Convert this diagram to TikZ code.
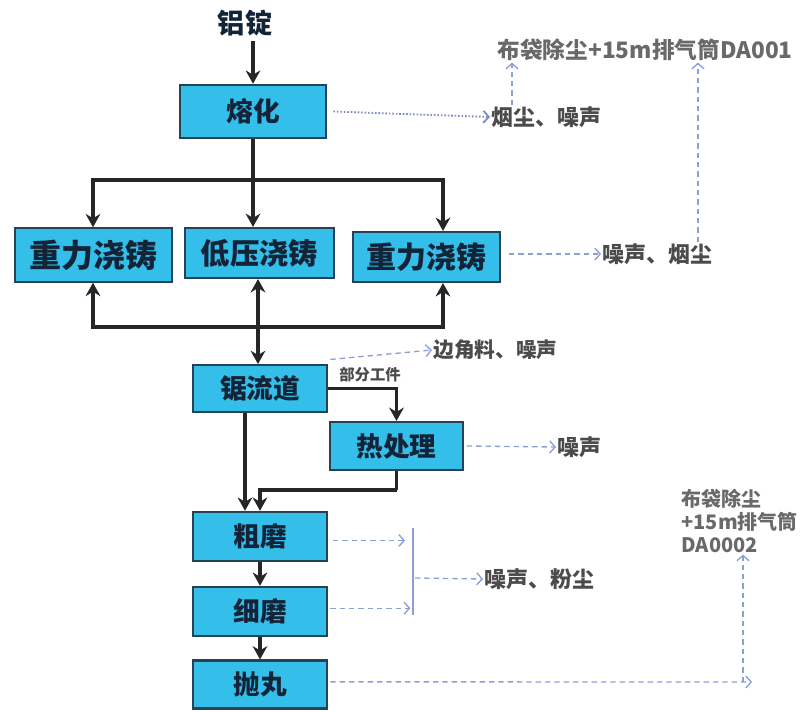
\documentclass[tikz,border=0pt]{standalone}
\usepackage{fontspec}
\setmainfont{Noto Sans CJK SC}
\usetikzlibrary{arrows.meta}
\definecolor{boxfill}{RGB}{52,190,234}
\definecolor{boxline}{RGB}{38,66,84}
\definecolor{boxtext}{RGB}{20,36,56}
\definecolor{emc}{RGB}{140,158,215}
\definecolor{labc}{RGB}{75,75,75}
\definecolor{labc2}{RGB}{105,105,105}
\begin{document}
\begin{tikzpicture}[x=0.75pt,y=-0.75pt,
  proc/.style={draw=boxline, line width=1.6pt, fill=boxfill, text=boxtext, inner sep=0pt,
    font=\bfseries\fontsize{20}{20}\selectfont},
  flow/.style={line width=2.6pt, black!85, -{Stealth[length=10pt,width=11pt]}},
  flowboth/.style={line width=2.6pt, black!85, {Stealth[length=10pt,width=11pt]}-{Stealth[length=10pt,width=11pt]}},
  trunk/.style={line width=2.6pt, black!85},
  emis/.style={emc, line width=1pt, dash pattern=on 4pt off 3pt, -{Straight Barb[length=4pt,width=9pt]}},
  emdot/.style={emc!90!black, line width=1.4pt, dash pattern=on 1.2pt off 1.4pt, -{Straight Barb[length=4pt,width=9pt]}},
  lab/.style={text=labc, inner sep=1pt, font=\bfseries\fontsize{16.5}{18}\selectfont},
  lab2/.style={text=labc2, inner sep=1pt, font=\bfseries\fontsize{17}{18}\selectfont, align=left},
]
\useasboundingbox (0,0) rectangle (811,711);

% nodes
\node[text=boxtext, font=\bfseries\fontsize{20.5}{21}\selectfont] (lz) at (245,23) {铝锭};
\node[proc, minimum width=109pt, minimum height=40pt] (rh) at (253,111.5) {熔化};
\node[proc, minimum width=118pt, minimum height=40pt, font=\bfseries\fontsize{24}{24}\selectfont] (gl) at (93.5,255) {重力浇铸};
\node[proc, minimum width=112pt, minimum height=37.5pt, font=\bfseries\fontsize{22}{22}\selectfont] (mid) at (259.5,253) {低压浇铸};
\node[proc, minimum width=110pt, minimum height=37.5pt, font=\bfseries\fontsize{22.5}{22}\selectfont] (gr) at (426.5,257) {重力浇铸};
\node[proc, minimum width=100pt, minimum height=35pt] (saw) at (260,388.5) {锯流道};
\node[proc, minimum width=100pt, minimum height=36pt] (heat) at (396.5,446) {热处理};
\node[proc, minimum width=100pt, minimum height=37pt] (coarse) at (260,536.5) {粗磨};
\node[proc, minimum width=100pt, minimum height=37pt] (fine) at (260,611.5) {细磨};
\node[proc, minimum width=100pt, minimum height=36pt] (shot) at (260,684.5) {抛丸};

% labels
\node[lab, anchor=west] (e1) at (490,117) {烟尘、噪声};
\node[lab2, anchor=west] (d1) at (496,50) {布袋除尘+15m排气筒DA001};
\node[lab, anchor=west] (e2) at (601,254) {噪声、烟尘};
\node[lab, anchor=west, font=\bfseries\fontsize{15.5}{18}\selectfont] (e3) at (432,350) {边角料、噪声};
\node[text=labc, inner sep=1pt, font=\bfseries\fontsize{11.5}{12}\selectfont] (bf) at (370,375) {部分工件};
\node[lab, anchor=west] (e4) at (556,447) {噪声};
\node[lab, anchor=west] (e5) at (483,579) {噪声、粉尘};
\node[lab2, anchor=north west, font=\bfseries\fontsize{15}{17.5}\selectfont] (d2) at (680,487) {布袋除尘\\+15m排气筒\\DA0002};

% coordinates
\coordinate (j1) at (253,180);
\coordinate (j2) at (258,327);
\coordinate (cl) at (93,0);
\coordinate (cr) at (443,0);
\coordinate (c1) at (512,0);
\coordinate (c2) at (698,0);
\coordinate (cs) at (245,0);
\coordinate (h1) at (396.5,490);
\coordinate (cb) at (413,0);
\coordinate (b1) at (413,528);
\coordinate (b2) at (413,615);
\coordinate (m1) at (415,578);
\coordinate (s1) at (752,682);
\coordinate (cv) at (743,0);

% main flow
\draw[flow] (lz.south -| rh.north) -- (rh.north);
\draw[trunk] (rh.south) -- (j1);
\draw[flow] (j1) -- (mid.north -| j1);
\draw[flow] (j1) -| (gl.north -| cl);
\draw[flow] (j1) -| (gr.north -| cr);
\draw[flow] (j2) -| (gl.south -| cl);
\draw[flow] (j2) -| (gr.south -| cr);
\draw[flowboth] (mid.south -| j2) -- (saw.north -| j2);
\draw[flow] (saw.east) -| (heat.north);
\draw[flow] (saw.south -| cs) -- (coarse.north -| cs);
\draw[trunk] (heat.south) -- (h1);
\draw[flow] (h1) -| (coarse.north);
\draw[flow] (coarse.south) -- (fine.north);
\draw[flow] (fine.south) -- (shot.north);

% emissions
\draw[emdot] ([xshift=5pt]rh.east) -- (e1.west);
\draw[emis] (e1.north -| c1) -- (d1.south -| c1);
\draw[emis] ([xshift=6pt]gr.east |- e2.west) -- (e2.west);
\draw[emis] (e2.north -| c2) -- (d1.south -| c2);
\draw[emis] ([xshift=2pt,yshift=3.5pt]saw.north east) -- (e3.west);
\draw[emis] ([xshift=2pt]heat.east) -- (e4.west);
\draw[emis] ([xshift=4pt,yshift=-3pt]coarse.east) -- ([xshift=-6pt,yshift=-3pt]coarse.east -| cb);
\draw[emis] ([xshift=2pt,yshift=2.5pt]fine.east) -- ([xshift=-2pt,yshift=2.5pt]fine.east -| cb);
\draw[emc, line width=1.2pt] (b1) -- (b2);
\draw[emis] (m1) -- (e5.west);
\draw[emis] ([xshift=2pt,yshift=2pt]shot.east) -- (s1);
\draw[emis] ([yshift=2pt]shot.east -| cv) -- (d2.south -| cv);
\end{tikzpicture}
\end{document}
